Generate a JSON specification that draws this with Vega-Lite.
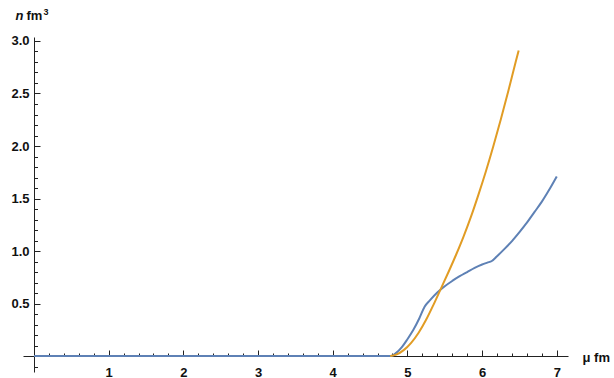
{
  "$schema": "https://vega.github.io/schema/vega-lite/v6.json",
  "width": 545,
  "height": 335,
  "autosize": {"type": "none"},
  "padding": {"left": 23, "top": 37, "right": 46, "bottom": 6},
  "background": "white",
  "config": {
    "view": {"stroke": null},
    "axis": {
      "labelFont": "Liberation Sans",
      "labelFontWeight": "bold",
      "labelFontSize": 13,
      "labelColor": "#111",
      "titleFont": "Liberation Sans",
      "titleFontWeight": "bold",
      "titleFontSize": 13,
      "titleColor": "#111",
      "domainColor": "#222",
      "tickColor": "#222",
      "grid": false
    }
  },
  "datasets": {
    "blue": [
      {"mu": 0, "n": 0},
      {"mu": 4.78, "n": 0},
      {"mu": 4.85, "n": 0.03},
      {"mu": 4.92, "n": 0.08},
      {"mu": 5.0, "n": 0.16},
      {"mu": 5.08, "n": 0.25},
      {"mu": 5.16, "n": 0.36},
      {"mu": 5.23, "n": 0.47},
      {"mu": 5.3, "n": 0.53},
      {"mu": 5.4, "n": 0.605},
      {"mu": 5.5, "n": 0.665},
      {"mu": 5.6, "n": 0.715},
      {"mu": 5.7, "n": 0.76},
      {"mu": 5.8, "n": 0.8},
      {"mu": 5.9, "n": 0.84},
      {"mu": 6.0, "n": 0.872},
      {"mu": 6.07, "n": 0.89},
      {"mu": 6.13, "n": 0.905},
      {"mu": 6.2, "n": 0.95},
      {"mu": 6.3, "n": 1.02},
      {"mu": 6.4, "n": 1.095},
      {"mu": 6.5, "n": 1.18},
      {"mu": 6.6, "n": 1.27},
      {"mu": 6.7, "n": 1.37},
      {"mu": 6.8, "n": 1.47},
      {"mu": 6.9, "n": 1.585},
      {"mu": 7.0, "n": 1.71}
    ],
    "orange": [
      {"mu": 4.77, "n": 0},
      {"mu": 4.85, "n": 0.013},
      {"mu": 4.95, "n": 0.056},
      {"mu": 5.05, "n": 0.126},
      {"mu": 5.15, "n": 0.222},
      {"mu": 5.25, "n": 0.345},
      {"mu": 5.35, "n": 0.49},
      {"mu": 5.45, "n": 0.645},
      {"mu": 5.55, "n": 0.8},
      {"mu": 5.65, "n": 0.962},
      {"mu": 5.75, "n": 1.135},
      {"mu": 5.85, "n": 1.325},
      {"mu": 5.95, "n": 1.535},
      {"mu": 6.05, "n": 1.758},
      {"mu": 6.15, "n": 1.998},
      {"mu": 6.25, "n": 2.253},
      {"mu": 6.35, "n": 2.521},
      {"mu": 6.45, "n": 2.803},
      {"mu": 6.49, "n": 2.91}
    ]
  },
  "layer": [
    {
      "data": {"name": "blue"},
      "mark": {"type": "line", "color": "#5E81B5", "strokeWidth": 2, "clip": false, "interpolate": "monotone"},
      "encoding": {
        "x": {
          "field": "mu",
          "type": "quantitative",
          "scale": {"domain": [-0.147, 7.15], "nice": false, "zero": false},
          "axis": {
            "orient": "bottom",
            "title": "μ fm",
            "titleX": 559,
            "titleY": 5,
            "titleAlign": "left",
            "titleBaseline": "alphabetic",
            "titleAnchor": null,
            "offset": -16,
            "values": [0,0.2,0.4,0.6,0.8,1,1.2,1.4,1.6,1.8,2,2.2,2.4,2.6,2.8,3,3.2,3.4,3.6,3.8,4,4.2,4.4,4.6,4.8,5,5.2,5.4,5.6,5.8,6,6.2,6.4,6.6,6.8,7],
            "tickSize": {"condition": {"test": "abs(datum.value - round(datum.value)) < 0.001", "value": -6}, "value": -3},
            "labelPadding": 16,
            "labelExpr": "datum.value > 0.5 && abs(datum.value - round(datum.value)) < 0.001 ? format(datum.value, 'd') : ''",
            "labelFlush": false,
            "labelOverlap": false
          }
        },
        "y": {
          "field": "n",
          "type": "quantitative",
          "scale": {"domain": [-0.152, 3.038], "nice": false, "zero": false},
          "axis": {
            "orient": "left",
            "title": "fm",
            "titleAngle": 0,
            "titleX": -8,
            "titleY": -18,
            "titleAlign": "left",
            "titleBaseline": "alphabetic",
            "titleAnchor": null,
            "offset": -11,
            "values": [-0.1,0,0.1,0.2,0.3,0.4,0.5,0.6,0.7,0.8,0.9,1,1.1,1.2,1.3,1.4,1.5,1.6,1.7,1.8,1.9,2,2.1,2.2,2.3,2.4,2.5,2.6,2.7,2.8,2.9,3],
            "tickSize": {"condition": {"test": "abs(datum.value * 2 - round(datum.value * 2)) < 0.001", "value": -6}, "value": -3.5},
            "labelPadding": 11,
            "labelExpr": "datum.value > 0.2 && abs(datum.value * 2 - round(datum.value * 2)) < 0.001 ? format(datum.value, '.1f') : ''",
            "labelFlush": false,
            "labelOverlap": false
          }
        }
      }
    },
    {
      "data": {"name": "orange"},
      "mark": {"type": "line", "color": "#E19C24", "strokeWidth": 2, "clip": false, "interpolate": "monotone"},
      "encoding": {
        "x": {
          "field": "mu",
          "type": "quantitative",
          "scale": {"domain": [-0.147, 7.15], "nice": false, "zero": false},
          "axis": {
            "orient": "top",
            "title": "3",
            "titleFontSize": 9,
            "titleX": 20,
            "titleY": -23,
            "titleAlign": "left",
            "titleBaseline": "alphabetic",
            "titleAnchor": null,
            "domain": false,
            "ticks": false,
            "labels": false
          }
        },
        "y": {
          "field": "n",
          "type": "quantitative",
          "scale": {"domain": [-0.152, 3.038], "nice": false, "zero": false},
          "axis": {
            "orient": "left",
            "title": "n",
            "titleFontStyle": "italic",
            "titleAngle": 0,
            "titleX": -19,
            "titleY": -18,
            "titleAlign": "left",
            "titleBaseline": "alphabetic",
            "titleAnchor": null,
            "offset": -11,
            "domain": false,
            "ticks": false,
            "labels": false
          }
        }
      }
    }
  ],
  "resolve": {"axis": {"x": "independent", "y": "independent"}}
}
